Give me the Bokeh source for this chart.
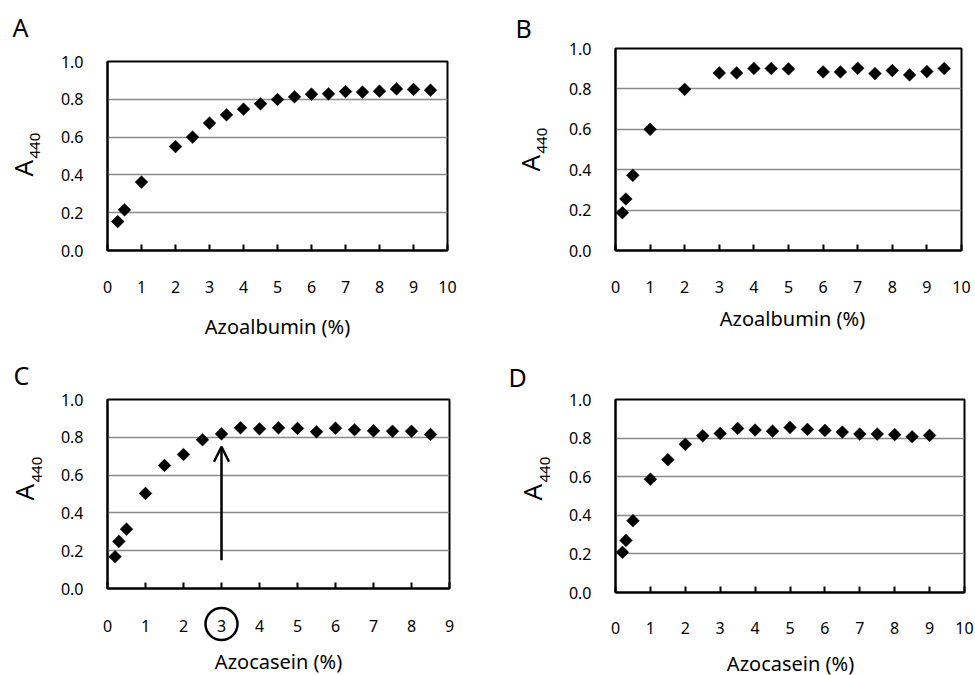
import math
from bokeh.plotting import figure
from bokeh.layouts import row, column
from bokeh.models import Range1d, FixedTicker, PrintfTickFormatter, Arrow, OpenHead, GridBox
from bokeh.core.properties import value
from bokeh.embed import file_html
from bokeh.resources import INLINE

# ---------------- data ----------------
a_x = [0.3, 0.5, 1, 2, 2.5, 3, 3.5, 4, 4.5, 5, 5.5, 6, 6.5, 7, 7.5, 8, 8.5, 9, 9.5]
a_y = [0.153, 0.215, 0.362, 0.550, 0.600, 0.674, 0.718, 0.748, 0.776, 0.799,
       0.813, 0.827, 0.829, 0.841, 0.838, 0.843, 0.855, 0.852, 0.848]
b_x = [0.2, 0.3, 0.5, 1, 2, 3, 3.5, 4, 4.5, 5, 6, 6.5, 7, 7.5, 8, 8.5, 9, 9.5]
b_y = [0.187, 0.255, 0.372, 0.600, 0.798, 0.879, 0.879, 0.901, 0.901, 0.899,
       0.884, 0.884, 0.902, 0.876, 0.891, 0.869, 0.886, 0.901]
c_x = [0.2, 0.3, 0.5, 1, 1.5, 2, 2.5, 3, 3.5, 4, 4.5, 5, 5.5, 6, 6.5, 7, 7.5, 8, 8.5]
c_y = [0.168, 0.249, 0.314, 0.503, 0.651, 0.709, 0.787, 0.818, 0.850, 0.845,
       0.850, 0.847, 0.829, 0.848, 0.840, 0.834, 0.832, 0.832, 0.815]
d_x = [0.2, 0.3, 0.5, 1, 1.5, 2, 2.5, 3, 3.5, 4, 4.5, 5, 5.5, 6, 6.5, 7, 7.5, 8, 8.5, 9]
d_y = [0.208, 0.270, 0.372, 0.587, 0.688, 0.768, 0.812, 0.824, 0.850, 0.842,
       0.836, 0.855, 0.845, 0.840, 0.831, 0.821, 0.821, 0.818, 0.807, 0.814]

y_ticks = [0.0, 0.2, 0.4, 0.6, 0.8, 1.0]
x_ticks_10 = list(range(0, 11))
x_ticks_9 = list(range(0, 10))

panel_letters = ["A", "B", "C", "D"]
x_titles = ["Azoalbumin (%)", "Azoalbumin (%)", "Azocasein (%)", "Azocasein (%)"]
y_title_main = "A"
y_title_sub = "440"

arrow_x = 3
arrow_y_start = 0.15
arrow_y_end = 0.75
circled_tick = 3

FONT = "Noto Sans"
PAGE_W, PAGE_H = 975, 675

# layout (page pixel coords): origin, size, frame box, text anchors
panels = [
    dict(ox=0, oy=0, w=490, h=340, L=107, R=447, T=61, B=250, xmax=10,
         letter=(12, 26), ya=(22, 176), ys=(34, 158), xlab=(277, 325.5), std=30),
    dict(ox=490, oy=0, w=485, h=340, L=615, R=961, T=48, B=250, xmax=10,
         letter=(515, 27), ya=(529, 171), ys=(541, 153), xlab=(792, 317.5), std=30),
    dict(ox=0, oy=340, w=490, h=335, L=107, R=449, T=399, B=588, xmax=9,
         letter=(13, 374.5), ya=(23, 500), ys=(36, 482), xlab=(278, 660.5), std=31),
    dict(ox=490, oy=340, w=485, h=335, L=615, R=964, T=399, B=592, xmax=10,
         letter=(508, 376), ya=(531, 500), ys=(544, 482), xlab=(790, 662.5), std=29),
]
series = [(a_x, a_y), (b_x, b_y), (c_x, c_y), (d_x, d_y)]

figs = []
for i, cfg in enumerate(panels):
    xs, ys = series[i]
    p = figure(width=cfg["w"], height=cfg["h"], output_backend="svg", toolbar_location=None,
               title=None, x_range=Range1d(0, cfg["xmax"]), y_range=Range1d(0, 1))
    p.min_border_left = cfg["L"] - cfg["ox"]
    p.min_border_right = cfg["ox"] + cfg["w"] - cfg["R"]
    p.min_border_top = cfg["T"] - cfg["oy"]
    p.min_border_bottom = cfg["oy"] + cfg["h"] - cfg["B"]
    p.background_fill_color = "white"
    p.border_fill_color = "white"
    p.outline_line_color = "black"
    p.outline_line_width = 2

    xa = p.xaxis[0]
    xa.ticker = FixedTicker(ticks=x_ticks_10 if cfg["xmax"] == 10 else x_ticks_9)
    xa.major_tick_in = 6
    xa.major_tick_out = 0
    xa.minor_tick_in = 0
    xa.minor_tick_out = 0
    xa.major_tick_line_color = "black"
    xa.major_tick_line_width = 2
    xa.axis_line_color = "black"
    xa.axis_line_width = 2
    xa.major_label_standoff = cfg["std"]
    xa.major_label_text_font = FONT
    xa.major_label_text_font_size = "16px"
    xa.major_label_text_color = "black"

    ya = p.yaxis[0]
    ya.ticker = FixedTicker(ticks=y_ticks)
    ya.formatter = PrintfTickFormatter(format="%.1f")
    ya.major_tick_in = 0
    ya.major_tick_out = 0
    ya.minor_tick_in = 0
    ya.minor_tick_out = 0
    ya.axis_line_color = "black"
    ya.axis_line_width = 2
    ya.major_label_standoff = 24
    ya.major_label_text_font = FONT
    ya.major_label_text_font_size = "16px"
    ya.major_label_text_color = "black"

    p.xgrid.visible = False
    p.ygrid.ticker = FixedTicker(ticks=[0.2, 0.4, 0.6, 0.8])
    p.ygrid.grid_line_color = "#8a8a8a"
    p.ygrid.grid_line_width = 1.3

    p.scatter(xs, ys, marker="square", size=9, angle=math.pi / 4,
              fill_color="black", line_color="black", line_width=0.5)

    if i == 2:
        p.add_layout(Arrow(x_start=arrow_x, y_start=arrow_y_start, x_end=arrow_x, y_end=arrow_y_end,
                           line_width=2.5, line_color="black",
                           end=OpenHead(size=15, line_width=2.5, line_color="black")))
    figs.append(p)

# each figure wrapped in its own column so that rows do not align the frames
wrapped = [column(f, spacing=0) for f in figs]
panels_layout = column(row(wrapped[0], wrapped[1], spacing=0),
                       row(wrapped[2], wrapped[3], spacing=0), spacing=0)

# transparent overlay (page pixel coordinates, y measured upward) for free texts
ov = figure(width=PAGE_W, height=PAGE_H, output_backend="svg", toolbar_location=None,
            title=None, x_range=Range1d(0, PAGE_W), y_range=Range1d(0, PAGE_H),
            x_axis_type=None, y_axis_type=None, min_border=0)
ov.min_border_left = ov.min_border_right = ov.min_border_top = ov.min_border_bottom = 0
ov.background_fill_color = None
ov.border_fill_color = None
ov.outline_line_color = None
ov.xgrid.visible = False
ov.ygrid.visible = False


def txt(x, y_page, s, size, angle=0.0, align="left", baseline="middle"):
    ov.text(x=[x], y=[PAGE_H - y_page], text=[s], text_font=value(FONT),
            text_font_size=value(f"{size}px"), text_align=align, text_baseline=baseline,
            angle=angle, text_color="black")


for i, cfg in enumerate(panels):
    txt(cfg["letter"][0], cfg["letter"][1], panel_letters[i], 25)
    txt(cfg["ya"][0], cfg["ya"][1], y_title_main, 26, angle=math.pi / 2)
    txt(cfg["ys"][0], cfg["ys"][1], y_title_sub, 15, angle=math.pi / 2)
    txt(cfg["xlab"][0], cfg["xlab"][1], x_titles[i], 20, align="center")

# circle around the "3" tick label of panel C
c_cfg = panels[2]
circ_x = c_cfg["L"] + circled_tick * (c_cfg["R"] - c_cfg["L"]) / c_cfg["xmax"]
circ_y = PAGE_H - 623.5
ov.scatter([circ_x], [circ_y], marker="circle", size=32, fill_color=None,
           line_color="black", line_width=2.5)

grid = GridBox(children=[(panels_layout, 0, 0), (ov, 0, 0)], spacing=0)
open("out.html", "w").write(file_html(grid, INLINE))
